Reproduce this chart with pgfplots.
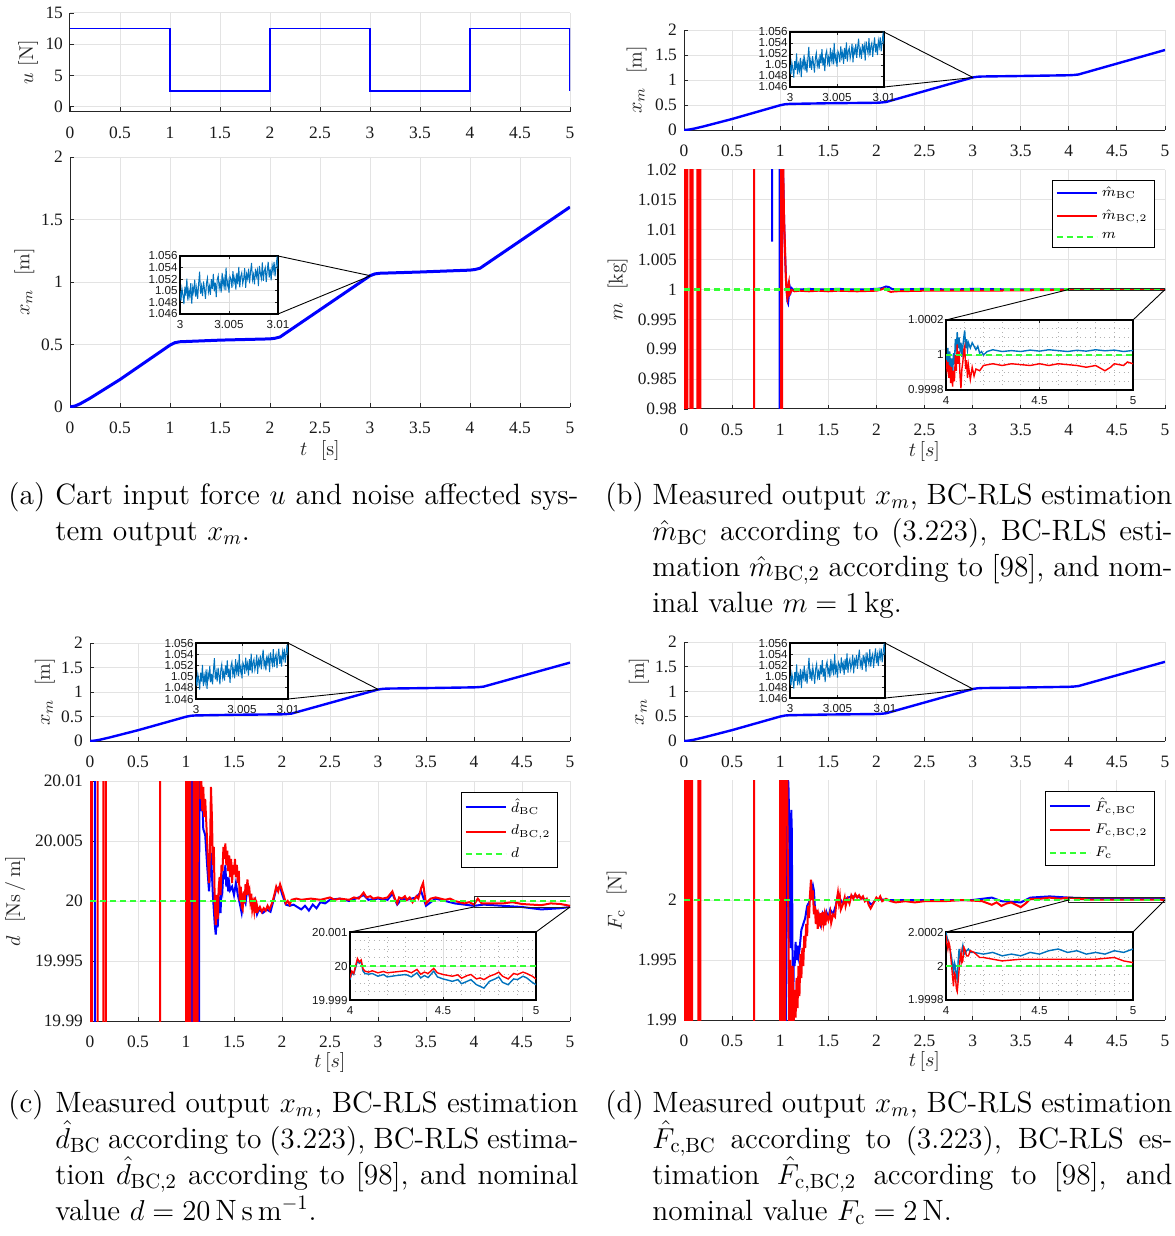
\documentclass[border=0pt]{standalone}
\usepackage{pgfplots}
\pgfplotsset{compat=1.18}
\usepackage{pgfplotstable}
\usepackage{fontspec}
\newfontfamily\tickfont{Liberation Serif}
\newfontfamily\insetfont{Liberation Sans}
\definecolor{mblue}{rgb}{0,0.447,0.741}
\definecolor{pblue}{rgb}{0,0,1}
\definecolor{pred}{rgb}{1,0,0}
\definecolor{pgreen}{rgb}{0.2,1,0.2}
\newcommand\capfont{\fontsize{14.7}{18}\selectfont}

% measured output x_m (main curve)
\pgfplotstableread{
t x
0 0
0.05 0.008
0.1 0.025
0.2 0.07
0.5 0.22
1.0 0.495
1.05 0.515
1.1 0.522
1.5 0.535
2.0 0.545
2.05 0.55
2.1 0.56
3.0 1.05
3.05 1.065
3.1 1.07
3.5 1.08
4.0 1.095
4.05 1.10
4.1 1.11
5.0 1.6
}\xmdata

% zoom of x_m between 3 and 3.01 s
\pgfplotstableread{
t x
3.0000 1.0500
3.0001 1.0483
3.0002 1.0504
3.0003 1.0493
3.0004 1.0477
3.0005 1.0507
3.0006 1.0491
3.0007 1.0521
3.0008 1.0483
3.0009 1.0501
3.0010 1.0490
3.0011 1.0513
3.0012 1.0478
3.0013 1.0506
3.0014 1.0497
3.0015 1.0519
3.0016 1.0490
3.0017 1.0505
3.0018 1.0486
3.0019 1.0512
3.0020 1.0533
3.0021 1.0495
3.0022 1.0508
3.0023 1.0491
3.0024 1.0516
3.0025 1.0503
3.0026 1.0486
3.0027 1.0513
3.0028 1.0522
3.0029 1.0498
3.0030 1.0508
3.0031 1.0493
3.0032 1.0520
3.0033 1.0503
3.0034 1.0529
3.0035 1.0499
3.0036 1.0514
3.0037 1.0489
3.0038 1.0519
3.0039 1.0526
3.0040 1.0504
3.0041 1.0514
3.0042 1.0497
3.0043 1.0531
3.0044 1.0509
3.0045 1.0521
3.0046 1.0501
3.0047 1.0540
3.0048 1.0508
3.0049 1.0517
3.0050 1.0497
3.0051 1.0525
3.0052 1.0520
3.0053 1.0505
3.0054 1.0534
3.0055 1.0514
3.0056 1.0523
3.0057 1.0502
3.0058 1.0531
3.0059 1.0511
3.0060 1.0541
3.0061 1.0506
3.0062 1.0525
3.0063 1.0531
3.0064 1.0512
3.0065 1.0521
3.0066 1.0539
3.0067 1.0505
3.0068 1.0529
3.0069 1.0521
3.0070 1.0538
3.0071 1.0513
3.0072 1.0533
3.0073 1.0548
3.0074 1.0519
3.0075 1.0528
3.0076 1.0511
3.0077 1.0538
3.0078 1.0525
3.0079 1.0535
3.0080 1.0508
3.0081 1.0543
3.0082 1.0530
3.0083 1.0521
3.0084 1.0549
3.0085 1.0517
3.0086 1.0534
3.0087 1.0540
3.0088 1.0515
3.0089 1.0535
3.0090 1.0550
3.0091 1.0523
3.0092 1.0538
3.0093 1.0518
3.0094 1.0544
3.0095 1.0533
3.0096 1.0550
3.0097 1.0525
3.0098 1.0542
3.0099 1.0557
3.0100 1.0538
}\xmnoise

\pgfplotsset{
  mainax/.style={
    scale only axis, anchor=north west,
    xmin=0, xmax=5, xtick={0,0.5,...,5},
    axis x line*=bottom, axis y line*=left,
    axis line style={black!85, line width=0.5pt},
    grid=major, major grid style={black!11, line width=0.5pt},
    tick align=inside, major tick length=2.2pt,
    tick style={black!85, line width=0.45pt},
    tick label style={font=\tickfont\fontsize{8.7}{10}\selectfont, text=black!90},
    xticklabel style={yshift=-4pt},
    /pgf/number format/assume math mode=true,
    scaled ticks=false,
    label style={font=\fontsize{10}{12}\selectfont, text=black!85},
    ylabel style={anchor=center}, xlabel style={anchor=center},
    legend cell align=left,
    legend style={anchor=north east, draw=black, fill=white,
      font=\fontsize{7.2}{8}\selectfont, inner xsep=1.5pt, inner ysep=1.2pt, row sep=1pt},
    legend image code/.code={\draw[#1] (0pt,0pt) -- (20pt,0pt);},
  },
  insetax/.style={
    scale only axis, anchor=north west,
    axis background/.style={fill=white},
    axis line style={black, line width=0.6pt},
    tick align=inside, major tick length=1.5pt,
    tick style={black!85, line width=0.4pt},
    grid=major, major grid style={black!13, line width=0.4pt},
    tick label style={font=\insetfont\fontsize{5.8}{7}\selectfont, text=black!90, inner sep=1pt},
    /pgf/number format/assume math mode=true, scaled ticks=false,
    xticklabel style={yshift=-2pt},
  },
  zoomin/.style={insetax, xmin=3, xmax=3.01, ymin=1.046, ymax=1.056,
    xtick={3,3.005,3.01}, xticklabels={3,3.005,3.01},
    ytick={1.046,1.048,1.05,1.052,1.054,1.056},
    yticklabels={1.046,1.048,1.05,1.052,1.054,1.056}},
  longin/.style={insetax, xmin=4, xmax=5, xtick={4,4.5,5}, xticklabels={4,4.5,5},
    grid=both, minor x tick num=4, minor y tick num=3,
    minor grid style={black!30, dotted, line width=0.4pt}, minor tick length=0pt},
  xmline/.style={pblue, line width=1.2pt},
  est/.style={line width=1pt},
  nom/.style={pgreen, line width=1.1pt, dash pattern=on 3pt off 2pt},
}

\begin{document}
\begin{tikzpicture}
\useasboundingbox (0,0) rectangle (587pt,-618pt);

% ================= (a) =================
\begin{axis}[mainax, at={(35pt,-6.5pt)}, width=250pt, height=49.4pt,
  ymin=-0.8, ymax=15, ytick={0,5,10,15},
  ylabel={$u$~[N]}, ylabel style={at={(axis description cs:-0.084,0.5)}}]
\addplot[pblue, line width=0.8pt] coordinates {(0,12.5)(1,12.5)(1,2.5)(2,2.5)(2,12.5)(3,12.5)(3,2.5)(4,2.5)(4,12.5)(5,12.5)(5,2.5)};
\end{axis}

\begin{axis}[mainax, at={(35pt,-78.5pt)}, width=250pt, height=125pt,
  ymin=0, ymax=2, ytick={0,0.5,1,1.5,2},
  ylabel={$x_m$\ \ [m]}, ylabel style={at={(axis description cs:-0.091,0.5)}},
  xlabel={$t$\ \ [s]}, xlabel style={at={(axis description cs:0.5,-0.172)}}]
\addplot[pblue, line width=1.5pt] table {\xmdata};
\coordinate (za) at (axis cs:3.005,1.05);
\end{axis}

\begin{axis}[zoomin, name=ia, at={(90pt,-128pt)}, width=49pt, height=29pt]
\addplot[mblue, line width=0.5pt] table {\xmnoise};
\end{axis}
\draw[black, line width=0.45pt] (ia.north east) -- (za) (ia.south east) -- (za);

% ================= (b) =================
\begin{axis}[mainax, at={(342pt,-15pt)}, width=240.5pt, height=50pt,
  ymin=0, ymax=2, ytick={0,0.5,1,1.5,2},
  ylabel={$x_m$\ \ [m]}, ylabel style={at={(axis description cs:-0.0985,0.5)}}]
\addplot[xmline] table {\xmdata};
\coordinate (zb) at (axis cs:3.005,1.05);
\end{axis}
\begin{axis}[zoomin, name=ib1, at={(395pt,-16pt)}, width=47pt, height=27.5pt]
\addplot[mblue, line width=0.5pt] table {\xmnoise};
\end{axis}
\draw[black, line width=0.45pt] (ib1.north east) -- (zb) (ib1.south east) -- (zb);

\begin{axis}[mainax, at={(342pt,-85pt)}, width=240.5pt, height=119.5pt,
  ymin=0.98, ymax=1.02,
  ytick={0.98,0.985,0.99,0.995,1,1.005,1.01,1.015,1.02},
  yticklabels={0.98,0.985,0.99,0.995,1,1.005,1.01,1.015,1.02},
  ylabel={$m$\ \ [kg]}, ylabel style={at={(axis description cs:-0.138,0.5)}},
  xlabel={$t\,[s]$}, xlabel style={at={(axis description cs:0.5,-0.176)}},
  legend style={at={(axis description cs:0.979,0.958)}}]
\addplot[pblue, est] coordinates {(0,1.1)(0.915,1.1)(0.915,1.008)(0.917,1.1)(0.995,1.1)(0.995,0.9)(1.003,0.9)(1.003,1.1)(1.025,1.1)(1.03,1.02)(1.04,1.012)(1.05,1.006)(1.06,1.002)(1.07,0.9995)(1.075,0.998)(1.082,0.9977)(1.09,0.999)(1.1,1.0004)(1.11,0.9996)(1.12,1.0002)(1.14,0.9999)(1.17,1.0001)(1.2,1.0)(1.3,1.0001)(1.4,1.0)(1.6,1.0001)(1.8,1.0)(2.0,1.0001)(2.05,1.0002)(2.1,1.0005)(2.13,1.0004)(2.16,1.0001)(2.2,1.0)(2.5,1.0001)(2.8,1.0)(3.0,1.0001)(3.5,1.0)(4.0,1.0)(4.5,1.00002)(5,1.00002)};
\addlegendentry{$\hat{m}_{\mathrm{BC}}$}
\addplot[pred, est] coordinates {(0,0.9)(0,1.1)(0.012,1.1)(0.012,0.9)(0.024,0.9)(0.024,1.1)(0.036,1.1)(0.036,0.9)(0.065,0.9)(0.065,1.1)(0.078,1.1)(0.078,0.9)(0.09,0.9)(0.09,1.1)(0.14,1.1)(0.14,0.9)(0.155,0.9)(0.155,1.1)(0.17,1.1)(0.17,0.9)(0.73,0.9)(0.73,1.1)(1.01,1.1)(1.01,0.9)(1.02,0.9)(1.02,1.1)(1.028,1.1)(1.032,1.02)(1.036,1.016)(1.04,1.012)(1.045,1.0095)(1.05,1.007)(1.055,1.004)(1.06,1.0015)(1.065,1.0)(1.07,0.999)(1.075,0.9985)(1.08,0.999)(1.085,1.0008)(1.09,1.0012)(1.095,0.9998)(1.1,0.9993)(1.11,0.9996)(1.12,0.9999)(1.15,0.9997)(1.2,0.9998)(1.3,0.9997)(1.4,0.9998)(1.5,0.9997)(1.6,0.9998)(1.8,0.9997)(2.0,0.9998)(2.05,1.0)(2.08,1.0002)(2.12,0.9998)(2.15,0.9996)(2.2,0.9997)(2.5,0.9998)(3.0,0.9998)(3.5,0.99985)(4.0,0.99995)(5,0.99995)};
\addlegendentry{$\hat{m}_{\mathrm{BC,2}}$}
\addplot[nom] coordinates {(0,1)(5,1)};
\addlegendentry{$m$}
\draw[black!85, line width=0.5pt] (axis cs:4,0.9998) rectangle (axis cs:5,1.0002);
\coordinate (bL) at (axis cs:4,1);
\coordinate (bR) at (axis cs:5,1);
\end{axis}

% inset: deviation from 1 kg in units of 1e-4 kg
\begin{axis}[longin, name=ib2, at={(473pt,-160pt)}, width=93.5pt, height=35pt,
  ymin=-2, ymax=2, ytick={-2,0,2}, yticklabels={0.9998,1,1.0002}]
\addplot[mblue, line width=0.7pt] coordinates {(4.000,0)(4.005,-0.4)(4.010,0.4)(4.015,-0.7)(4.020,0.2)(4.025,-1.0)(4.030,-0.2)(4.035,-1.3)(4.040,0.1)(4.045,-0.5)(4.050,0.9)(4.055,0.2)(4.060,1.3)(4.065,0.4)(4.070,1.0)(4.075,0.3)(4.080,0.7)(4.085,-0.1)(4.090,0.5)(4.095,1.0)(4.100,1.4)(4.105,0.4)(4.110,0.9)(4.115,0.3)(4.120,0.7)(4.130,0.4)(4.140,0.7)(4.150,0.5)(4.160,0.3)(4.170,0.5)(4.180,0.1)(4.190,0.2)(4.200,0.0)(4.220,0.2)(4.250,0.3)(4.300,0.2)(4.350,0.25)(4.400,0.2)(4.450,0.28)(4.500,0.22)(4.550,0.3)(4.600,0.25)(4.650,0.2)(4.700,0.27)(4.750,0.22)(4.800,0.3)(4.850,0.24)(4.900,0.28)(4.950,0.2)(5.000,0.26)};
\addplot[pred, line width=0.7pt] coordinates {(4.000,-0.3)(4.005,-0.8)(4.010,-0.4)(4.015,-1.3)(4.020,-0.6)(4.025,-1.6)(4.030,-0.7)(4.035,-1.8)(4.040,-0.9)(4.045,-1.5)(4.050,0.0)(4.055,-0.9)(4.060,0.6)(4.065,-0.5)(4.070,0.2)(4.075,-1.2)(4.080,-1.9)(4.085,-0.8)(4.090,-0.4)(4.095,0.3)(4.100,0.5)(4.105,-0.8)(4.110,-0.3)(4.115,-1.3)(4.120,-0.6)(4.130,-1.4)(4.140,-0.7)(4.150,-1.2)(4.160,-0.8)(4.180,-0.9)(4.200,-0.6)(4.250,-0.5)(4.300,-0.6)(4.350,-0.5)(4.400,-0.55)(4.450,-0.6)(4.500,-0.5)(4.550,-0.6)(4.600,-0.5)(4.650,-0.55)(4.700,-0.6)(4.750,-0.7)(4.800,-0.6)(4.850,-0.9)(4.880,-0.7)(4.900,-0.5)(4.950,-0.6)(4.970,-0.4)(5.000,-0.5)};
\addplot[nom] coordinates {(4,0)(5,0)};
\end{axis}
\draw[black, line width=0.45pt] (ib2.north west) -- (bL) (ib2.north east) -- (bR);

% ================= (c) =================
\begin{axis}[mainax, at={(45pt,-321.5pt)}, width=240pt, height=49pt,
  ymin=0, ymax=2, ytick={0,0.5,1,1.5,2},
  ylabel={$x_m$\ \ [m]}, ylabel style={at={(axis description cs:-0.094,0.5)}}]
\addplot[xmline] table {\xmdata};
\coordinate (zc) at (axis cs:3.005,1.05);
\end{axis}
\begin{axis}[zoomin, name=ic1, at={(98pt,-321.5pt)}, width=46pt, height=28pt]
\addplot[mblue, line width=0.5pt] table {\xmnoise};
\end{axis}
\draw[black, line width=0.45pt] (ic1.north east) -- (zc) (ic1.south east) -- (zc);

\begin{axis}[mainax, at={(45pt,-390.5pt)}, width=240pt, height=120pt,
  ymin=19.99, ymax=20.01,
  ytick={19.99,19.995,20,20.005,20.01},
  yticklabels={19.99,19.995,20,20.005,20.01},
  ylabel={$d$\ \ [Ns$\,/\,$m]}, ylabel style={at={(axis description cs:-0.156,0.5)}},
  xlabel={$t\,[s]$}, xlabel style={at={(axis description cs:0.5,-0.171)}},
  legend style={at={(axis description cs:0.975,0.954)}}]
\addplot[pblue, est] coordinates {(0,20.02)(0.05,20.02)(0.05,19.98)(0.052,19.98)(0.052,20.02)(1.055,20.02)(1.055,19.98)(1.065,19.98)(1.065,20.02)(1.12,20.02)(1.125,19.98)(1.135,19.98)(1.14,20.02)(1.15,20.009)(1.16,20.0075)(1.17,20.0085)(1.18,20.006)(1.2,20.0055)(1.22,20.003)(1.24,20.0008)(1.26,20.004)(1.28,20.0005)(1.3,19.998)(1.31,19.9972)(1.32,19.9985)(1.33,19.9978)(1.34,19.9995)(1.35,20.0)(1.36,19.999)(1.37,20.0015)(1.38,20.001)(1.39,20.0025)(1.4,20.0018)(1.41,20.003)(1.42,20.0012)(1.43,20.002)(1.44,20.0008)(1.45,20.0015)(1.46,20.0009)(1.48,20.0012)(1.5,20.0005)(1.52,20.0015)(1.54,20.0005)(1.56,19.9998)(1.58,19.999)(1.6,20.0002)(1.62,19.9998)(1.64,20.0012)(1.66,20.0005)(1.68,19.9997)(1.7,19.9994)(1.72,20.0)(1.74,19.9989)(1.76,19.9993)(1.8,19.999)(1.84,19.9993)(1.88,19.9991)(1.9,19.9997)(1.94,20.001)(1.98,20.0012)(2.0,20.0006)(2.04,19.9997)(2.08,19.9996)(2.12,19.9997)(2.16,19.9995)(2.2,19.9993)(2.24,19.9996)(2.28,19.9992)(2.32,19.9997)(2.36,19.9994)(2.4,19.9999)(2.45,19.9998)(2.5,20.0001)(2.6,20.0002)(2.7,20.0)(2.8,20.0003)(2.85,20.0005)(2.9,20.0001)(3.0,20.0002)(3.1,20.0001)(3.15,20.0006)(3.2,19.9997)(3.25,20.0002)(3.3,20.0001)(3.4,20.0003)(3.45,20.0008)(3.5,19.9996)(3.6,20.0002)(3.7,20.0)(3.8,19.9998)(3.9,19.9997)(4.0,19.9996)(4.1,19.9997)(4.3,19.9996)(4.5,19.9995)(4.7,19.9993)(4.9,19.9994)(5,19.9995)};
\addlegendentry{$\hat{d}_{\mathrm{BC}}$}
\addplot[pred, est] coordinates {(0,19.98)(0,20.02)(0.02,20.02)(0.02,19.98)(0.08,19.98)(0.08,20.02)(0.14,20.02)(0.14,19.98)(0.165,19.98)(0.165,20.02)(0.73,20.02)(0.73,19.98)(1.0,19.98)(1.0,20.02)(1.008,20.02)(1.008,19.98)(1.016,19.98)(1.016,20.02)(1.03,20.02)(1.03,19.98)(1.045,19.98)(1.045,20.02)(1.08,20.02)(1.08,19.98)(1.09,19.98)(1.09,20.02)(1.105,20.02)(1.105,19.98)(1.11,19.98)(1.11,20.02)(1.115,20.02)(1.12,19.988)(1.125,20.02)(1.14,20.02)(1.15,20.0085)(1.16,20.01)(1.17,20.0075)(1.18,20.0095)(1.19,20.007)(1.2,20.0085)(1.22,20.005)(1.24,20.0015)(1.25,20.004)(1.26,20.0095)(1.27,20.007)(1.28,20.003)(1.29,20.0045)(1.3,19.9995)(1.31,19.998)(1.32,20.0005)(1.33,19.9985)(1.34,20.001)(1.35,20.002)(1.36,20.0005)(1.37,20.003)(1.38,20.0025)(1.39,20.0045)(1.4,20.0035)(1.41,20.0048)(1.42,20.003)(1.43,20.0042)(1.44,20.0025)(1.45,20.0038)(1.46,20.002)(1.47,20.0035)(1.48,20.0015)(1.49,20.003)(1.5,20.0022)(1.51,20.0035)(1.52,20.002)(1.53,20.003)(1.54,20.0015)(1.55,20.0025)(1.56,20.0)(1.57,20.0012)(1.58,19.9995)(1.59,19.9993)(1.6,20.0008)(1.61,19.9998)(1.62,20.0014)(1.63,20.0005)(1.64,20.0018)(1.65,20.0008)(1.66,20.001)(1.67,20.0)(1.68,20.0006)(1.69,19.9993)(1.7,19.9998)(1.71,19.9992)(1.72,20.0003)(1.73,19.999)(1.74,19.9996)(1.75,19.9992)(1.77,19.9995)(1.79,19.9991)(1.81,19.9994)(1.83,19.9992)(1.85,19.9996)(1.87,19.9993)(1.9,19.9999)(1.92,20.0005)(1.94,20.0012)(1.96,20.0008)(1.98,20.0014)(2.0,20.0009)(2.02,20.0004)(2.04,19.9998)(2.06,20.0)(2.08,19.9997)(2.1,20.0001)(2.15,20.0002)(2.2,20.0001)(2.3,20.0002)(2.4,20.0001)(2.5,20.0003)(2.55,20.0001)(2.6,20.0002)(2.7,20.0001)(2.75,20.0003)(2.8,20.0002)(2.85,20.0007)(2.88,20.0003)(2.92,20.0004)(2.95,20.0002)(3.0,20.0003)(3.05,20.0002)(3.1,20.0003)(3.15,20.0008)(3.18,20.0001)(3.2,19.9998)(3.22,20.0003)(3.25,20.0002)(3.28,20.0004)(3.3,20.0001)(3.33,20.0003)(3.36,19.9999)(3.4,20.0004)(3.42,20.0002)(3.45,20.0011)(3.47,20.0015)(3.49,20.0003)(3.5,19.9998)(3.55,20.0002)(3.6,20.0003)(3.65,20.0002)(3.7,20.0001)(3.75,20.0002)(3.8,20.0)(3.85,19.9999)(3.9,19.9998)(3.95,19.9999)(4.0,19.9997)(4.04,20.0002)(4.08,19.9998)(4.2,19.9998)(4.3,19.9998)(4.4,19.9999)(4.5,19.99975)(4.6,19.9997)(4.7,19.99965)(4.8,19.9998)(4.9,19.99975)(5,19.9996)};
\addlegendentry{$d_{\mathrm{BC,2}}$}
\addplot[nom] coordinates {(0,20)(5,20)};
\addlegendentry{$d$}
\draw[black!85, line width=0.5pt] (axis cs:4,19.9995) rectangle (axis cs:5,20.0004);
\coordinate (cL) at (axis cs:4,19.9995);
\coordinate (cR) at (axis cs:5,19.9995);
\end{axis}

% inset: deviation from 20 Ns/m in units of 1e-4 Ns/m
\begin{axis}[longin, name=ic2, at={(175pt,-466pt)}, width=93pt, height=34pt,
  ymin=-10, ymax=10, ytick={-10,0,10}, yticklabels={19.999,20,20.001}]
\addplot[mblue, line width=0.7pt] coordinates {(4.00,-4.0)(4.01,-2.0)(4.02,-2.5)(4.03,-0.5)(4.04,1.5)(4.05,0.8)(4.06,1.2)(4.07,-1.5)(4.08,-2.2)(4.10,-2.4)(4.12,-2.2)(4.15,-3.0)(4.18,-2.5)(4.20,-3.2)(4.25,-2.8)(4.30,-2.5)(4.33,-3.2)(4.36,-2.0)(4.38,-3.5)(4.40,-2.8)(4.42,-3.4)(4.45,-1.5)(4.47,-3.2)(4.50,-3.8)(4.55,-4.5)(4.58,-4.0)(4.60,-5.2)(4.63,-4.5)(4.65,-4.0)(4.68,-5.5)(4.70,-6.0)(4.72,-6.5)(4.75,-4.5)(4.78,-3.8)(4.80,-3.2)(4.82,-4.8)(4.85,-5.5)(4.88,-3.8)(4.90,-4.0)(4.93,-3.0)(4.95,-3.5)(4.98,-4.8)(5.00,-5.5)};
\addplot[pred, line width=0.7pt] coordinates {(4.00,-3.5)(4.01,-1.5)(4.02,-2.2)(4.03,0)(4.04,2.2)(4.05,1.2)(4.06,1.8)(4.07,-0.8)(4.08,-1.5)(4.10,-1.8)(4.12,-1.4)(4.15,-2.0)(4.18,-1.6)(4.20,-2.0)(4.25,-1.7)(4.30,-1.4)(4.33,-2.0)(4.36,-1.0)(4.38,-2.4)(4.40,-1.8)(4.42,-2.2)(4.45,-0.7)(4.47,-2.0)(4.50,-2.5)(4.55,-3.0)(4.58,-2.6)(4.60,-3.6)(4.63,-2.8)(4.65,-2.5)(4.68,-3.8)(4.70,-3.5)(4.72,-4.0)(4.75,-3.0)(4.78,-2.4)(4.80,-1.8)(4.82,-3.0)(4.85,-3.8)(4.88,-2.2)(4.90,-2.5)(4.93,-1.8)(4.95,-2.2)(4.98,-3.0)(5.00,-3.8)};
\addplot[nom] coordinates {(4,0)(5,0)};
\end{axis}
\draw[black, line width=0.45pt] (ic2.north west) -- (cL) (ic2.north east) -- (cR);

% ================= (d) =================
\begin{axis}[mainax, at={(342pt,-321pt)}, width=240.5pt, height=49.5pt,
  ymin=0, ymax=2, ytick={0,0.5,1,1.5,2},
  ylabel={$x_m$\ \ [m]}, ylabel style={at={(axis description cs:-0.094,0.5)}}]
\addplot[xmline] table {\xmdata};
\coordinate (zd) at (axis cs:3.005,1.05);
\end{axis}
\begin{axis}[zoomin, name=id1, at={(395pt,-321.5pt)}, width=47.5pt, height=27.5pt]
\addplot[mblue, line width=0.5pt] table {\xmnoise};
\end{axis}
\draw[black, line width=0.45pt] (id1.north east) -- (zd) (id1.south east) -- (zd);

\begin{axis}[mainax, at={(342pt,-390pt)}, width=240.5pt, height=120pt,
  ymin=1.99, ymax=2.01,
  ytick={1.99,1.995,2}, yticklabels={1.99,1.995,2},
  ylabel={$F_{\mathrm{c}}$\ \ [N]}, ylabel style={at={(axis description cs:-0.140,0.5)}},
  xlabel={$t\,[s]$}, xlabel style={at={(axis description cs:0.5,-0.171)}},
  legend style={at={(axis description cs:0.979,0.954)}}]
\addplot[pblue, est] coordinates {(0,1.98)(1.0,1.98)(1.0,2.02)(1.01,2.02)(1.012,1.98)(1.055,1.98)(1.07,2.005)(1.075,2.009)(1.08,2.01)(1.085,2.0098)(1.09,2.008)(1.095,2.004)(1.1,2.0)(1.105,1.996)(1.11,2.002)(1.115,2.0075)(1.12,2.006)(1.125,2.0)(1.13,1.9925)(1.135,1.99)(1.14,1.995)(1.15,1.9945)(1.16,1.9965)(1.17,1.995)(1.18,1.9962)(1.19,1.9953)(1.2,1.9958)(1.22,1.9975)(1.24,1.998)(1.26,1.9985)(1.28,1.9995)(1.3,1.9998)(1.32,2.0005)(1.34,2.0012)(1.35,2.0008)(1.36,1.9995)(1.38,1.9985)(1.4,1.9988)(1.42,1.998)(1.44,1.9988)(1.46,1.9982)(1.48,1.999)(1.5,1.9985)(1.52,1.9992)(1.55,1.9988)(1.58,1.9996)(1.6,2.0004)(1.65,1.9997)(1.7,2.0002)(1.75,2.0003)(1.8,2.0003)(1.9,2.0)(1.95,1.9996)(2.0,2.0001)(2.1,2.0)(2.5,2.0)(3.0,2.0)(3.2,2.0002)(3.3,1.9999)(3.5,1.9998)(3.6,2.0002)(3.8,2.0003)(4.0,2.0002)(4.5,2.00007)(5,2.0001)};
\addlegendentry{$\hat{F}_{\mathrm{c,BC}}$}
\addplot[pred, est] coordinates {(0.01,1.98)(0.01,2.02)(0.025,2.02)(0.025,1.98)(0.04,1.98)(0.04,2.02)(0.055,2.02)(0.055,1.98)(0.07,1.98)(0.07,2.02)(0.085,2.02)(0.085,1.98)(0.15,1.98)(0.15,2.02)(0.17,2.02)(0.17,1.98)(0.73,1.98)(0.73,2.02)(1.0,2.02)(1.0,1.98)(1.008,1.98)(1.008,2.02)(1.016,2.02)(1.016,1.98)(1.026,1.98)(1.026,2.02)(1.036,2.02)(1.036,1.98)(1.05,1.98)(1.05,2.02)(1.07,2.02)(1.075,2.0068)(1.08,2.003)(1.085,1.998)(1.09,1.993)(1.095,1.989)(1.1,1.9905)(1.105,1.995)(1.11,1.9915)(1.115,1.989)(1.12,1.9935)(1.125,1.99)(1.13,1.9945)(1.14,1.9898)(1.15,1.9925)(1.16,1.9902)(1.17,1.9935)(1.18,1.991)(1.19,1.9945)(1.2,1.992)(1.21,1.9955)(1.22,1.9935)(1.23,1.996)(1.24,1.9945)(1.25,1.997)(1.26,1.996)(1.27,1.998)(1.28,1.997)(1.29,1.9995)(1.3,1.9985)(1.31,2.0005)(1.32,2.0017)(1.33,2.0)(1.34,2.0008)(1.35,1.9988)(1.36,1.9995)(1.37,1.998)(1.38,1.9992)(1.39,1.9976)(1.4,1.9985)(1.41,1.9978)(1.42,1.9989)(1.43,1.9982)(1.44,1.999)(1.45,1.9981)(1.46,1.9987)(1.47,1.9979)(1.48,1.9988)(1.5,1.9983)(1.52,1.999)(1.53,1.9981)(1.55,1.9988)(1.57,1.9986)(1.58,1.9995)(1.6,2.0006)(1.61,1.9998)(1.62,2.0003)(1.63,1.9992)(1.65,1.9996)(1.67,2.0002)(1.68,1.9995)(1.7,2.0001)(1.72,1.9997)(1.74,2.0004)(1.76,2.0001)(1.78,2.0005)(1.8,2.0002)(1.82,2.0004)(1.84,2.0001)(1.86,2.0003)(1.88,1.9999)(1.9,2.0001)(1.92,1.9996)(1.94,1.9993)(1.96,1.9996)(1.98,1.9999)(2.0,2.0002)(2.02,2.0)(2.04,2.0003)(2.06,1.9999)(2.1,2.0001)(2.15,1.9999)(2.2,1.9998)(2.3,1.9999)(2.4,1.9998)(2.5,1.9999)(2.7,1.9999)(2.9,2.0)(3.1,1.9999)(3.2,1.9996)(3.25,1.9998)(3.3,1.9995)(3.35,1.9997)(3.4,1.9998)(3.45,1.9996)(3.5,1.9994)(3.55,1.9997)(3.6,2.0001)(3.7,2.0001)(3.8,2.0002)(3.9,2.0001)(4.0,2.0002)(4.2,2.00004)(4.5,2.00004)(5,2.00002)};
\addlegendentry{$F_{\mathrm{c,BC,2}}$}
\addplot[nom] coordinates {(0,2)(5,2)};
\addlegendentry{$F_{\mathrm{c}}$}
\draw[black!85, line width=0.5pt] (axis cs:4,1.9998) rectangle (axis cs:5,2.0002);
\coordinate (dL) at (axis cs:4,2);
\coordinate (dR) at (axis cs:5,2);
\end{axis}

% inset: deviation from 2 N in units of 1e-4 N
\begin{axis}[longin, name=id2, at={(473pt,-466pt)}, width=93.5pt, height=34pt,
  ymin=-2, ymax=2, ytick={-2,0,2}, yticklabels={1.9998,2,2.0002}]
\addplot[mblue, line width=0.7pt] coordinates {(4.00,2.0)(4.005,1.7)(4.01,1.5)(4.015,1.2)(4.02,1.0)(4.025,0.8)(4.03,0.5)(4.035,0.1)(4.04,-0.5)(4.045,0.2)(4.05,0.0)(4.055,-0.6)(4.06,-0.8)(4.065,0.3)(4.07,1.0)(4.075,0.5)(4.08,0.3)(4.085,0.9)(4.09,1.2)(4.095,0.8)(4.10,0.7)(4.11,0.9)(4.12,1.0)(4.13,0.8)(4.15,0.8)(4.2,0.7)(4.25,0.8)(4.3,0.6)(4.35,0.7)(4.4,0.6)(4.45,0.8)(4.5,0.7)(4.55,0.9)(4.6,1.0)(4.65,0.8)(4.7,0.9)(4.75,0.7)(4.8,0.8)(4.85,0.7)(4.9,0.9)(4.95,0.8)(5.0,1.0)};
\addplot[pred, line width=0.7pt] coordinates {(4.00,1.8)(4.005,1.3)(4.01,1.0)(4.015,1.4)(4.02,1.2)(4.025,0.6)(4.03,0.0)(4.035,-0.6)(4.04,-1.2)(4.045,-0.4)(4.05,-0.5)(4.055,-1.3)(4.06,-1.5)(4.065,-0.9)(4.07,-0.2)(4.075,0.4)(4.08,0.8)(4.085,0.2)(4.09,0.3)(4.095,1.1)(4.10,1.0)(4.11,0.6)(4.12,0.6)(4.13,0.9)(4.15,0.8)(4.18,0.5)(4.2,0.5)(4.25,0.4)(4.3,0.3)(4.4,0.4)(4.5,0.4)(4.6,0.4)(4.7,0.4)(4.8,0.4)(4.9,0.5)(4.95,0.3)(5.0,0.2)};
\addplot[nom] coordinates {(4,0)(5,0)};
\end{axis}
\draw[black, line width=0.45pt] (id2.north west) -- (dL) (id2.north east) -- (dR);

% ================= captions =================
\node[anchor=base west, inner sep=0pt, font=\capfont] at (4pt,-252pt) {(a)};
\node[anchor=base west, inner sep=0pt, font=\capfont] at (27.5pt,-252pt) {\makebox[261.5pt][s]{Cart input force $u$ and noise affected sys-}};
\node[anchor=base west, inner sep=0pt, font=\capfont] at (27.5pt,-270pt) {tem output $x_m$.};

\node[anchor=base west, inner sep=0pt, font=\capfont] at (302.5pt,-252pt) {(b)};
\node[anchor=base west, inner sep=0pt, font=\capfont] at (326pt,-252pt) {\makebox[260pt][s]{Measured output $x_m$, BC-RLS estimation}};
\node[anchor=base west, inner sep=0pt, font=\capfont] at (326pt,-270pt) {\makebox[260pt][s]{$\hat{m}_{\mathrm{BC}}$ according to (3.223), BC-RLS esti-}};
\node[anchor=base west, inner sep=0pt, font=\capfont] at (326pt,-288pt) {\makebox[260pt][s]{mation $\hat{m}_{\mathrm{BC,2}}$ according to [98], and nom-}};
\node[anchor=base west, inner sep=0pt, font=\capfont] at (326pt,-306pt) {inal value $m = 1\,\mathrm{kg}$.};

\node[anchor=base west, inner sep=0pt, font=\capfont] at (4pt,-556pt) {(c)};
\node[anchor=base west, inner sep=0pt, font=\capfont] at (27.5pt,-556pt) {\makebox[261.5pt][s]{Measured output $x_m$, BC-RLS estimation}};
\node[anchor=base west, inner sep=0pt, font=\capfont] at (27.5pt,-574pt) {\makebox[261.5pt][s]{$\hat{d}_{\mathrm{BC}}$ according to (3.223), BC-RLS estima-}};
\node[anchor=base west, inner sep=0pt, font=\capfont] at (27.5pt,-592pt) {\makebox[261.5pt][s]{tion $\hat{d}_{\mathrm{BC,2}}$ according to [98], and nominal}};
\node[anchor=base west, inner sep=0pt, font=\capfont] at (27.5pt,-610pt) {value $d = 20\,\mathrm{N\,s\,m^{-1}}$.};

\node[anchor=base west, inner sep=0pt, font=\capfont] at (302.5pt,-556pt) {(d)};
\node[anchor=base west, inner sep=0pt, font=\capfont] at (326pt,-556pt) {\makebox[260pt][s]{Measured output $x_m$, BC-RLS estimation}};
\node[anchor=base west, inner sep=0pt, font=\capfont] at (326pt,-574pt) {\makebox[260pt][s]{$\hat{F}_{\mathrm{c,BC}}$ according to (3.223), BC-RLS es-}};
\node[anchor=base west, inner sep=0pt, font=\capfont] at (326pt,-592pt) {\makebox[260pt][s]{timation $\hat{F}_{\mathrm{c,BC,2}}$ according to [98], and}};
\node[anchor=base west, inner sep=0pt, font=\capfont] at (326pt,-610pt) {nominal value $F_{\mathrm{c}} = 2\,\mathrm{N}$.};
\end{tikzpicture}
\end{document}
